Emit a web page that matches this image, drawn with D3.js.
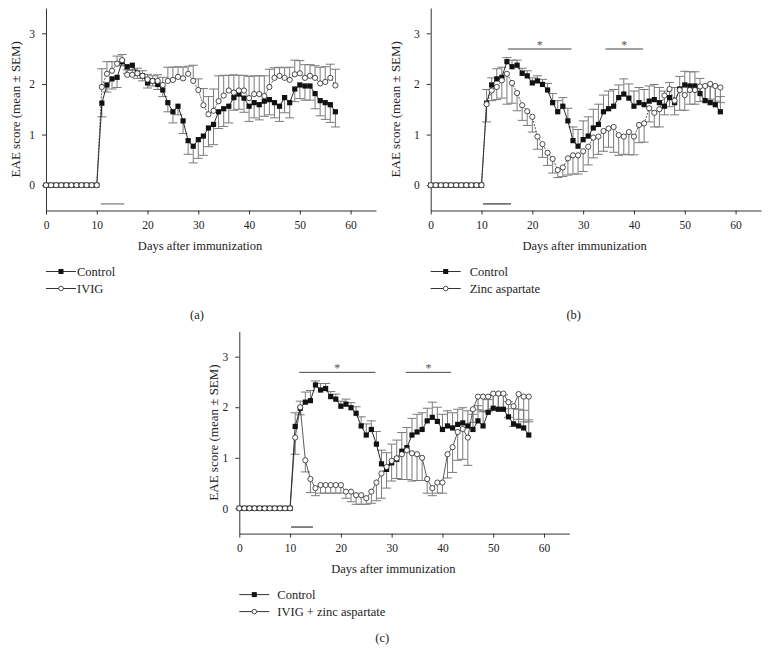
<!DOCTYPE html>
<html>
<head>
<meta charset="utf-8">
<script src="https://cdn.jsdelivr.net/npm/d3@7"></script>
<style>
  body { margin: 0; background: #fff; }
  svg text { font-family: "Liberation Serif", "Times New Roman", "DejaVu Serif", serif; }
</style>
</head>
<body>
<svg id="chart" width="770" height="664"></svg>
<script>
// days after immunization (0..57)
const days = [0,1,2,3,4,5,6,7,8,9,10,11,12,13,14,15,16,17,18,19,20,21,22,23,24,25,26,27,28,29,
  30,31,32,33,34,35,36,37,38,39,40,41,42,43,44,45,46,47,48,49,50,51,52,53,54,55,56,57];

// control group (same group in all three panels)
const control = [0,0,0,0,0,0,0,0,0,0,0,
  1.62,1.98,2.10,2.13,2.44,2.34,2.37,2.21,2.16,2.02,
  2.06,1.99,1.88,1.63,1.45,1.56,1.27,0.88,0.77,0.90,
  0.97,1.13,1.20,1.45,1.51,1.56,1.73,1.80,1.72,1.56,
  1.63,1.59,1.66,1.69,1.63,1.56,1.73,1.63,1.90,1.98,
  1.96,1.96,1.81,1.67,1.63,1.59,1.45];
const controlSem = [0,0,0,0,0,0,0,0,0,0,0,
  0.27,0.14,0.20,0.20,0.08,0.13,0.10,0.10,0.10,0.10,
  0.10,0.10,0.13,0.18,0.22,0.17,0.25,0.27,0.33,0.37,
  0.38,0.37,0.40,0.33,0.35,0.33,0.25,0.30,0.28,0.30,
  0.30,0.30,0.30,0.30,0.30,0.30,0.30,0.30,0.25,0.27,
  0.28,0.28,0.30,0.30,0.33,0.35,0.30];

const ivig = [0,0,0,0,0,0,0,0,0,0,0,
  1.94,2.20,2.26,2.40,2.47,2.18,2.18,2.21,2.16,2.09,
  2.06,2.06,1.98,2.06,2.08,2.14,2.11,2.20,2.06,1.88,
  1.58,1.40,1.47,1.66,1.77,1.87,1.83,1.87,1.87,1.72,
  1.80,1.80,1.76,1.94,2.12,2.16,2.12,2.08,2.19,2.21,
  2.12,2.16,2.12,2.01,2.04,2.12,1.97];
const ivigSem = [0,0,0,0,0,0,0,0,0,0,0,
  0.36,0.24,0.18,0.15,0.11,0.10,0.10,0.10,0.10,0.10,
  0.10,0.12,0.15,0.27,0.25,0.20,0.22,0.15,0.31,0.22,
  0.33,0.35,0.43,0.50,0.40,0.30,0.35,0.30,0.30,0.43,
  0.36,0.36,0.40,0.35,0.20,0.17,0.20,0.25,0.28,0.25,
  0.26,0.22,0.24,0.32,0.30,0.27,0.32];

const zinc = [0,0,0,0,0,0,0,0,0,0,0,
  1.60,1.87,1.94,2.07,2.20,2.02,1.82,1.58,1.46,1.35,
  0.96,0.81,0.64,0.52,0.30,0.35,0.53,0.59,0.59,0.67,
  0.76,0.94,0.96,1.07,1.12,1.15,0.99,0.96,1.05,0.96,
  1.19,1.22,1.52,1.43,1.50,1.77,1.90,1.67,1.88,1.78,
  1.88,1.88,1.95,1.96,2.00,1.96,1.93];
const zincSem = [0,0,0,0,0,0,0,0,0,0,0,
  0.35,0.20,0.25,0.35,0.60,0.40,0.35,0.30,0.28,0.30,
  0.25,0.26,0.25,0.28,0.15,0.18,0.33,0.37,0.37,0.40,
  0.36,0.40,0.35,0.40,0.37,0.50,0.40,0.35,0.45,0.36,
  0.35,0.37,0.27,0.28,0.35,0.38,0.35,0.28,0.40,0.30,
  0.28,0.28,0.30,0.30,0.30,0.30,0.30];

const combo = [0,0,0,0,0,0,0,0,0,0,0,
  1.40,2.00,0.95,0.58,0.40,0.46,0.46,0.46,0.46,0.46,
  0.33,0.33,0.26,0.26,0.20,0.33,0.51,0.69,0.82,0.94,
  0.99,1.07,1.15,1.09,1.07,1.00,0.58,0.40,0.51,0.51,
  1.07,1.21,1.51,1.57,1.40,1.96,2.21,2.21,2.21,2.27,
  2.27,2.27,2.10,2.02,2.26,2.21,2.21];
const comboSem = [0,0,0,0,0,0,0,0,0,0,0,
  0.33,0.15,0.23,0.27,0.15,0.16,0.16,0.16,0.16,0.16,
  0.13,0.20,0.18,0.18,0.12,0.23,0.36,0.49,0.42,0.40,
  0.40,0.50,0.58,0.55,0.52,0.45,0.28,0.15,0.21,0.21,
  0.47,0.50,0.56,0.60,0.55,0.26,0.26,0.30,0.30,0.30,
  0.30,0.30,0.30,0.40,0.50,0.50,0.50];

const xTicks = [0, 10, 20, 30, 40, 50, 60];
const yTicks = [0, 1, 2, 3];

const panelLabels = ['(a)', '(b)', '(c)'];
const legendLabels = [['Control', 'IVIG'], ['Control', 'Zinc aspartate'], ['Control', 'IVIG + zinc aspartate']];
// treatment period (days) drawn under the curves
const treatment = [[10.8, 15.4], [10.3, 15.8], [10.2, 14.5]];
// significance bars (day ranges)
const sigBars = [[], [[15.2, 27.7], [34.4, 41.8]], [[11.8, 26.8], [32.8, 41.7]]];

const svg = d3.select('#chart');

const panels = [
  { left: 46, right: 376, top: 8, bottom: 210.5, labelX: 15, legendGap: 31,
    series: [control, ivig], sems: [controlSem, ivigSem], dirs: [-1, 1], dashed: true },
  { left: 430.7, right: 761, top: 8, bottom: 210.5, labelX: 395, legendGap: 39,
    series: [control, zinc], sems: [controlSem, zincSem], dirs: [1, -1], dashed: true },
  { left: 239.3, right: 569.4, top: 331.4, bottom: 533.6, labelX: 213, legendGap: 38,
    series: [control, combo], sems: [controlSem, comboSem], dirs: [1, -1], dashed: false }
];

panels.forEach((p, k) => drawPanel(p, k));

function drawPanel(p, k) {
  const x = d3.scaleLinear().domain([0, 65]).range([p.left, p.right]);
  const y = d3.scaleLinear().domain([-0.5, 3.5]).range([p.bottom, p.top]);
  const g = svg.append('g');

  // axes
  const xa = g.append('g')
    .attr('transform', `translate(0,${p.bottom})`)
    .call(d3.axisBottom(x).tickValues(xTicks).tickFormat(d3.format('d'))
      .tickSize(4).tickSizeOuter(0).tickPadding(6));
  const ya = g.append('g')
    .attr('transform', `translate(${p.left},0)`)
    .call(d3.axisLeft(y).tickValues(yTicks).tickFormat(d3.format('d'))
      .tickSize(4).tickSizeOuter(0).tickPadding(7));
  [xa, ya].forEach(a => {
    a.attr('font-size', 11.5);
    a.selectAll('path, line').attr('stroke', '#333');
    a.selectAll('text').style('fill', '#222');
  });

  g.append('text')
    .attr('transform', `translate(${p.labelX},${y(1.5)}) rotate(-90)`)
    .attr('text-anchor', 'middle')
    .attr('dy', '0.35em')
    .attr('font-size', 13)
    .style('fill', '#222')
    .text('EAE score (mean ± SEM)');

  g.append('text')
    .attr('x', p.left + 154)
    .attr('y', p.bottom + 35)
    .attr('dy', '0.35em')
    .attr('text-anchor', 'middle')
    .attr('font-size', 12.5)
    .style('fill', '#222')
    .text('Days after immunization');

  // treatment bar
  g.append('line')
    .attr('x1', x(treatment[k][0])).attr('x2', x(treatment[k][1]))
    .attr('y1', y(-0.37)).attr('y2', y(-0.37))
    .attr('stroke', k === 0 ? '#777' : '#333').attr('stroke-width', 1.2);

  // significance bars
  sigBars[k].forEach(b => {
    g.append('line')
      .attr('x1', x(b[0])).attr('x2', x(b[1]))
      .attr('y1', y(2.69)).attr('y2', y(2.69))
      .attr('stroke', '#444').attr('stroke-width', 1);
    g.append('text')
      .attr('x', x((b[0] + b[1]) / 2))
      .attr('y', y(2.69) - 0.5)
      .attr('text-anchor', 'middle')
      .attr('font-size', 12)
      .style('fill', '#555')
      .text('*');
  });

  // error bars
  p.series.forEach((vals, i) => {
    const pts = days.map((d, j) => ({ d: d, v: vals[j], e: p.sems[i][j] })).filter(o => o.e > 0);
    const end = o => y(o.v + p.dirs[i] * o.e);
    const eg = g.append('g').attr('stroke', '#7a7a7a').attr('stroke-width', 1);
    eg.selectAll('.stem').data(pts).join('line')
      .attr('x1', o => x(o.d)).attr('x2', o => x(o.d))
      .attr('y1', o => y(o.v)).attr('y2', end);
    eg.selectAll('.cap').data(pts).join('line')
      .attr('x1', o => x(o.d) - 4.5).attr('x2', o => x(o.d) + 4.5)
      .attr('y1', end).attr('y2', end);
  });

  // lines
  const line = d3.line().x((d, j) => x(days[j])).y(d => y(d));
  g.append('path').datum(p.series[0])
    .attr('d', line).attr('fill', 'none')
    .attr('stroke', '#111').attr('stroke-width', 0.9);
  g.append('path').datum(p.series[1])
    .attr('d', line).attr('fill', 'none')
    .attr('stroke', '#333').attr('stroke-width', 0.8)
    .attr('stroke-dasharray', p.dashed ? '2,1.2' : null);

  // markers
  g.selectAll('.sq').data(p.series[0]).join('rect')
    .attr('x', (d, j) => x(days[j]) - 2.6)
    .attr('y', d => y(d) - 2.6)
    .attr('width', 5.2).attr('height', 5.2)
    .attr('fill', '#111');
  g.selectAll('.ci').data(p.series[1]).join('circle')
    .attr('cx', (d, j) => x(days[j]))
    .attr('cy', d => y(d))
    .attr('r', 2.6)
    .attr('fill', '#fff').attr('stroke', '#222').attr('stroke-width', 0.8);

  // legend
  legendLabels[k].forEach((name, i) => {
    const ly = p.bottom + 61 + i * 17;
    g.append('line')
      .attr('x1', p.left).attr('x2', p.left + 30)
      .attr('y1', ly).attr('y2', ly)
      .attr('stroke', '#333').attr('stroke-width', 1);
    if (i === 0) {
      g.append('rect')
        .attr('x', p.left + 12.5).attr('y', ly - 2.5)
        .attr('width', 5).attr('height', 5).attr('fill', '#111');
    } else {
      g.append('circle')
        .attr('cx', p.left + 15).attr('cy', ly).attr('r', 2.3)
        .attr('fill', '#fff').attr('stroke', '#222').attr('stroke-width', 0.8);
    }
    g.append('text')
      .attr('x', p.left + p.legendGap)
      .attr('y', ly)
      .attr('dy', '0.35em')
      .attr('font-size', 12.5)
      .style('fill', '#222')
      .text(name);
  });

  g.append('text')
    .attr('x', p.left + (k === 0 ? 151 : 143))
    .attr('y', p.bottom + 104)
    .attr('dy', '0.35em')
    .attr('text-anchor', 'middle')
    .attr('font-size', 12.5)
    .style('fill', '#222')
    .text(panelLabels[k]);
}
</script>
</body>
</html>
